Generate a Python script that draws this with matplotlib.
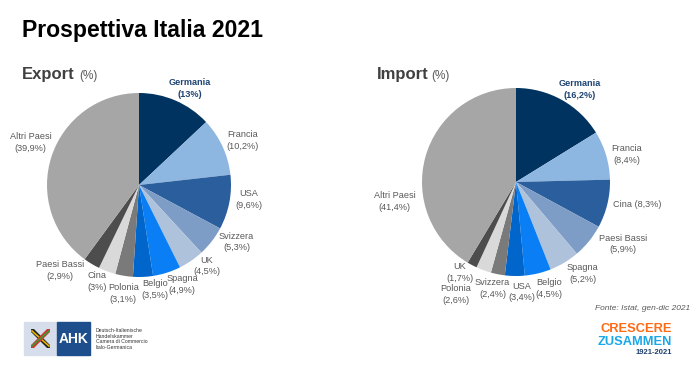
import numpy as np
import matplotlib.pyplot as plt
from matplotlib.patches import Rectangle

plt.rcParams['font.family'] = ['Liberation Sans', 'DejaVu Sans']

# export shares (%)
export_labels = ["Germania", "Francia", "USA", "Svizzera", "UK", "Spagna",
                 "Belgio", "Polonia", "Cina", "Paesi Bassi", "Altri Paesi"]
export_values = [13.0, 10.2, 9.6, 5.3, 4.5, 4.9, 3.5, 3.1, 3.0, 2.9, 39.9]
export_text = ["13%", "10,2%", "9,6%", "5,3%", "4,5%", "4,9%",
               "3,5%", "3,1%", "3%", "2,9%", "39,9%"]

# import shares (%)
import_labels = ["Germania", "Francia", "Cina", "Paesi Bassi", "Spagna", "Belgio",
                 "USA", "Svizzera", "Polonia", "UK", "Altri Paesi"]
import_values = [16.2, 8.4, 8.3, 5.9, 5.2, 4.5, 3.4, 2.4, 2.6, 1.7, 41.4]
import_text = ["16,2%", "8,4%", "8,3%", "5,9%", "5,2%", "4,5%",
               "3,4%", "2,4%", "2,6%", "1,7%", "41,4%"]

colors = ["#00335F", "#8DB6E1", "#2B5E9C", "#7E9DC6", "#AFC2DC", "#0A7FF5",
          "#0066CC", "#7A7A7A", "#D9D9D9", "#4D4D4D", "#A6A6A6"]

W, H = 700, 367
fig = plt.figure(figsize=(W / 100, H / 100), dpi=100)


def fx(x):
    return x / W


def fy(y):
    return 1 - y / H


def pie_axes(cx, cy, r):
    ax = fig.add_axes([fx(cx - r), fy(cy + r), 2 * r / W, 2 * r / H])
    return ax


def draw_pie(ax, values, labels, texts, label_pos, one_line=()):
    ax.pie(values, colors=colors, startangle=90, counterclock=False,
           radius=1, wedgeprops=dict(linewidth=0))
    ax.set_xlim(-1, 1)
    ax.set_ylim(-1, 1)
    ax.set_aspect('auto')
    ax.axis('off')
    for i, (lab, t) in enumerate(zip(labels, texts)):
        x, y = label_pos[i]
        s = f"{lab} ({t})" if lab in one_line else f"{lab}\n({t})"
        if i == 0:
            ax.text(x, y, s, ha='center', va='center', fontsize=6.6,
                    fontweight='bold', color="#1F4573", linespacing=1.4)
        else:
            ax.text(x, y, s, ha='center', va='center', fontsize=6.6,
                    color="#595959", linespacing=1.4)


# label placement, in units of pie radius
export_pos = [(0.55, 1.05), (1.13, 0.48), (1.19, -0.16), (1.06, -0.62),
              (0.74, -0.88), (0.47, -1.08), (0.17, -1.14), (-0.17, -1.18),
              (-0.46, -1.05), (-0.86, -0.93), (-1.18, 0.46)]
import_pos = [(0.68, 0.98), (1.18, 0.29), (1.29, -0.24), (1.14, -0.66),
              (0.71, -0.97), (0.35, -1.13), (0.06, -1.17), (-0.25, -1.13),
              (-0.64, -1.20), (-0.60, -0.96), (-1.29, -0.21)]

ax1 = pie_axes(139, 185, 92)
draw_pie(ax1, export_values, export_labels, export_text, export_pos)
ax2 = pie_axes(516, 182, 94)
draw_pie(ax2, import_values, import_labels, import_text, import_pos,
         one_line=("Cina",))

# titles
fig.text(fx(22), fy(30), "Prospettiva Italia 2021", fontsize=16.6,
         fontweight='bold', color="black", va='center', ha='left')
fig.text(fx(22), fy(75), "Export", fontsize=12, fontweight='bold',
         color="#404040", va='center', ha='left')
fig.text(fx(79), fy(76), "(%)", fontsize=8.5, color="#595959",
         va='center', ha='left')
fig.text(fx(377), fy(75), "Import", fontsize=12, fontweight='bold',
         color="#404040", va='center', ha='left')
fig.text(fx(431), fy(76), "(%)", fontsize=8.5, color="#595959",
         va='center', ha='left')

fig.text(fx(690), fy(308), "Fonte: Istat, gen-dic 2021", fontsize=6,
         style='italic', color="#595959", ha='right', va='center')

# AHK logo
fig.patches.append(Rectangle((fx(24), fy(355)), 33 / W, 33 / H,
                             transform=fig.transFigure, color="#D5DEEA"))
fig.patches.append(Rectangle((fx(57), fy(355)), 33 / W, 33 / H,
                             transform=fig.transFigure, color="#1F4E8C"))
logo = fig.add_axes([fx(31), fy(348), 19 / W, 19 / H])
logo.set_zorder(5)
logo.patch.set_visible(False)
logo.plot([0, 1], [1, 0], color="#222222", lw=3, solid_capstyle='butt')
logo.plot([0.05, 0.95], [0.9, 0.1], color="#E8B400", lw=1.2)
logo.plot([0, 1], [0, 1], color="#D4322C", lw=3, solid_capstyle='butt')
logo.plot([0.05, 0.95], [0.1, 0.9], color="#3A9A3A", lw=1.2)
logo.set_xlim(0, 1)
logo.set_ylim(0, 1)
logo.axis('off')
fig.text(fx(73.5), fy(339), "AHK", fontsize=10, fontweight='bold',
         color="white", ha='center', va='center')
fig.text(fx(96), fy(339), "Deutsch-Italienische\nHandelskammer\n"
         "Camera di Commercio\nItalo-Germanica", fontsize=3.7,
         color="#333333", ha='left', va='center', linespacing=1.2)

# anniversary logo
fig.text(fx(672), fy(329), "CRESCERE", fontsize=9.3, fontweight='bold',
         color="#FF6A13", ha='right', va='center')
fig.text(fx(672), fy(342), "ZUSAMMEN", fontsize=9.3, fontweight='bold',
         color="#1AA7E8", ha='right', va='center')
fig.text(fx(672), fy(353), "1921-2021", fontsize=5.5, fontweight='bold',
         color="#1F3F6E", ha='right', va='center')

fig.savefig("out.png", dpi=100)
